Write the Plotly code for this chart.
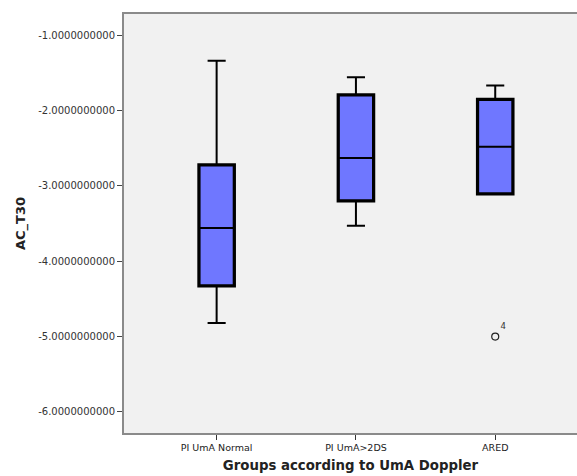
import plotly.graph_objects as go

# Summary statistics of AC_T30 per Doppler group
groups = ["PI UmA Normal", "PI UmA>2DS", "ARED"]
lower_whisker = [-4.82, -3.53, -3.10]
q1_vals = [-4.32, -3.19, -3.10]
median_vals = [-3.56, -2.63, -2.48]
q3_vals = [-2.73, -1.80, -1.86]
upper_whisker = [-1.34, -1.56, -1.67]

# Outlying case (labelled by case number)
outlier_group = ["ARED"]
outlier_value = [-5.0]
outlier_label = ["4"]

y_ticks = [-1, -2, -3, -4, -5, -6]

BOX_W = 0.245
FILL = "#6f77ff"
PANEL = "#f1f1f1"

fig = go.Figure()

fig.add_trace(go.Box(
    x=groups,
    q1=q1_vals,
    median=median_vals,
    q3=q3_vals,
    lowerfence=lower_whisker,
    upperfence=upper_whisker,
    width=BOX_W,
    whiskerwidth=0.53,
    fillcolor=FILL,
    line=dict(color="black", width=2),
    boxpoints=False,
    hoverinfo="skip",
))

# Heavy outline around each interquartile box
fig.add_trace(go.Bar(
    x=groups,
    base=q1_vals,
    y=[hi - lo for hi, lo in zip(q3_vals, q1_vals)],
    width=BOX_W,
    marker=dict(color="rgba(0,0,0,0)", line=dict(color="black", width=4.5)),
    hoverinfo="skip",
))

fig.add_trace(go.Scatter(
    x=outlier_group,
    y=outlier_value,
    mode="markers+text",
    marker=dict(symbol="circle-open", size=7, color="#222", line=dict(width=1.2)),
    text=outlier_label,
    textposition="top right",
    textfont=dict(size=8.5, color="#333", family="DejaVu Sans"),
    hoverinfo="skip",
))

fig.update_layout(
    width=577,
    height=476,
    margin=dict(l=124, r=0, t=14, b=43),
    paper_bgcolor="white",
    plot_bgcolor=PANEL,
    showlegend=False,
    font=dict(family="DejaVu Sans", color="#222"),
    # panel is open on the right-hand side
    shapes=[dict(type="rect", xref="paper", yref="paper",
                 x0=0.994, x1=1.01, y0=0.006, y1=0.994,
                 fillcolor=PANEL, line=dict(width=0), layer="above")],
)

fig.update_xaxes(
    type="category",
    range=[-0.665, 2.587],
    showgrid=False,
    zeroline=False,
    showline=True,
    mirror=True,
    linecolor="#8a8a8a",
    linewidth=2,
    ticks="outside",
    ticklen=5,
    tickcolor="#333",
    tickfont=dict(size=9.5, color="#222"),
    title=dict(text="<b>Groups according to UmA Doppler</b>",
               font=dict(size=13.3, color="#222"), standoff=8),
    automargin=False,
)

fig.update_yaxes(
    range=[-6.28, -0.72],
    tickvals=y_ticks,
    ticktext=["-%.10f" % abs(v) for v in y_ticks],
    showgrid=False,
    zeroline=False,
    showline=True,
    linecolor="#8a8a8a",
    linewidth=2,
    ticks="outside",
    ticklen=5,
    tickcolor="#444",
    tickfont=dict(size=10, color="#333"),
    title=dict(text="<b>AC_T30</b>", font=dict(size=13, color="#222"), standoff=10),
    automargin=False,
)

fig.write_html("out.html", config={"displayModeBar": False, "staticPlot": True})
